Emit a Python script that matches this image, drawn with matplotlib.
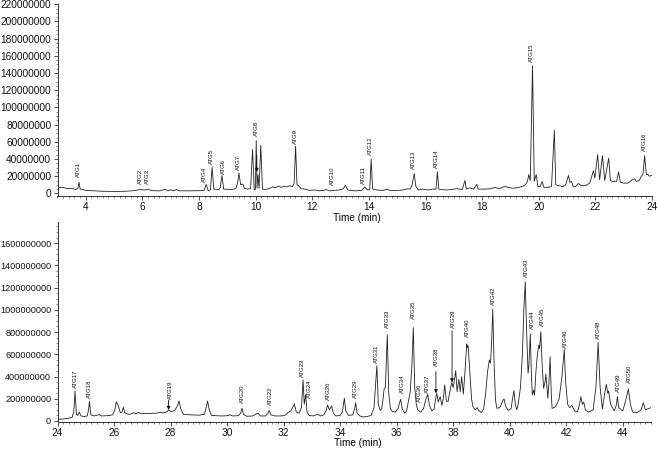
import matplotlib
matplotlib.use("Agg")
import matplotlib.pyplot as plt
from matplotlib.ticker import MultipleLocator, FuncFormatter

plt.rcParams['font.family'] = ['Liberation Sans', 'DejaVu Sans']

# chromatogram traces: (time in min, signal in millions)
top_trace = [
    (3.0, 6.5), (3.2, 7.0), (3.35, 5.5), (3.5, 6.0), (3.65, 4.5), (3.72, 6), (3.76, 13), (3.8, 5),
    (3.9, 4.5), (4.0, 3.5), (4.3, 3.0), (4.6, 2.5), (5.0, 2.3), (5.4, 2.5), (5.7, 3.2), (5.9, 4.5),
    (6.05, 4.0), (6.2, 4.6), (6.35, 3.2), (6.6, 3.0), (6.8, 4.8), (6.9, 3.0), (7.0, 4.2), (7.1, 3.0),
    (7.2, 4.5), (7.3, 3.0), (7.6, 3.0), (8.0, 3.2), (8.18, 3.5), (8.25, 10.5), (8.32, 3.5), (8.4, 4),
    (8.46, 30.5), (8.52, 5), (8.7, 4.5), (8.75, 7), (8.81, 21), (8.87, 5), (9.1, 4.5), (9.3, 5.5),
    (9.36, 12), (9.41, 23.5), (9.47, 10), (9.55, 11), (9.6, 6), (9.7, 5), (9.82, 5.5), (9.89, 51),
    (9.95, 4), (9.99, 5), (10.02, 61.5), (10.05, 6), (10.08, 22), (10.12, 6), (10.18, 56), (10.24, 5),
    (10.35, 4.5), (10.5, 6), (10.6, 7.5), (10.7, 6.5), (10.8, 8.5), (10.9, 7), (11.0, 8.5), (11.1, 7.5),
    (11.2, 9.0), (11.3, 8), (11.36, 12), (11.41, 55), (11.46, 10), (11.52, 9), (11.6, 5.5), (11.75, 5),
    (11.9, 3.5), (12.1, 4), (12.2, 3.0), (12.4, 3.5), (12.5, 4.5), (12.6, 3.0), (12.8, 3.5), (12.95, 4),
    (13.1, 5.5), (13.17, 9.5), (13.25, 4), (13.5, 3.0), (13.75, 3.5), (13.85, 7.5), (13.95, 4.0),
    (14.03, 4.5), (14.08, 40), (14.13, 5), (14.3, 4), (14.5, 3.5), (14.65, 5), (14.75, 3.2), (15.0, 3.5),
    (15.2, 4), (15.38, 5.5), (15.45, 5), (15.52, 9), (15.6, 23), (15.66, 8), (15.75, 4), (15.9, 5),
    (16.1, 4), (16.25, 5), (16.37, 5), (16.42, 25), (16.47, 5), (16.7, 4), (16.9, 4.5), (17.1, 5.5),
    (17.3, 4.5), (17.39, 15), (17.44, 5), (17.55, 6.5), (17.7, 5), (17.81, 10.5), (17.86, 5), (18.1, 5),
    (18.3, 5.5), (18.45, 7), (18.6, 5.5), (18.75, 7.5), (18.85, 8), (18.9, 7), (19.1, 6), (19.3, 7),
    (19.5, 9), (19.6, 14), (19.65, 22), (19.7, 15), (19.78, 148.5), (19.84, 14), (19.91, 22), (19.97, 8),
    (20.05, 8), (20.12, 14), (20.18, 7), (20.3, 7), (20.45, 8), (20.55, 73.5), (20.6, 10), (20.7, 9),
    (20.85, 8), (20.95, 10), (21.05, 21), (21.1, 13), (21.15, 14), (21.22, 8), (21.3, 8), (21.4, 11.5),
    (21.5, 9), (21.65, 9), (21.8, 12), (21.93, 26.5), (21.98, 18), (22.08, 45), (22.15, 16), (22.25, 44),
    (22.33, 15), (22.47, 41), (22.53, 15), (22.6, 14), (22.75, 14), (22.82, 25), (22.88, 13), (23.0, 12),
    (23.15, 12), (23.3, 16), (23.38, 17), (23.45, 14), (23.55, 15), (23.62, 20), (23.68, 22), (23.74, 44),
    (23.8, 22), (23.86, 22), (23.9, 20), (24.0, 21),
]

bottom_trace = [
    (24.0, 15), (24.2, 18), (24.4, 25), (24.52, 35), (24.58, 90), (24.62, 270), (24.67, 60), (24.72, 50),
    (24.77, 81), (24.83, 45), (24.95, 40), (25.05, 45), (25.1, 100), (25.13, 177), (25.18, 55), (25.3, 45),
    (25.48, 58), (25.55, 45), (25.8, 48), (25.95, 55), (26.03, 100), (26.08, 171), (26.15, 140), (26.22, 75),
    (26.28, 80), (26.33, 123), (26.38, 75), (26.5, 60), (26.6, 62), (26.7, 75), (26.78, 63), (26.88, 78),
    (26.95, 65), (27.2, 68), (27.5, 70), (27.65, 80), (27.72, 72), (27.85, 80), (27.94, 99), (28.02, 82),
    (28.15, 95), (28.25, 140), (28.3, 180), (28.36, 110), (28.45, 60), (28.7, 55), (29.0, 52), (29.2, 60),
    (29.26, 120), (29.31, 180), (29.37, 100), (29.45, 50), (29.8, 45), (30.0, 47), (30.1, 55), (30.2, 45),
    (30.4, 48), (30.48, 70), (30.53, 114), (30.58, 60), (30.7, 42), (30.9, 45), (31.05, 65), (31.1, 70),
    (31.18, 45), (31.35, 45), (31.44, 65), (31.49, 93), (31.55, 55), (31.7, 45), (31.9, 45), (32.05, 50),
    (32.15, 75), (32.25, 90), (32.33, 125), (32.38, 153), (32.45, 80), (32.55, 70), (32.63, 120),
    (32.69, 369), (32.73, 150), (32.78, 237), (32.83, 80), (32.9, 50), (33.05, 45), (33.15, 55), (33.22, 60),
    (33.3, 45), (33.42, 55), (33.5, 90), (33.56, 144), (33.62, 100), (33.7, 135), (33.76, 70), (33.85, 45),
    (34.0, 50), (34.08, 80), (34.15, 204), (34.2, 90), (34.3, 50), (34.45, 55), (34.51, 110), (34.55, 165),
    (34.6, 70), (34.7, 45), (34.8, 36), (34.95, 40), (35.1, 50), (35.2, 120), (35.26, 350), (35.3, 498),
    (35.35, 150), (35.42, 95), (35.47, 110), (35.52, 200), (35.56, 294), (35.6, 300), (35.67, 777),
    (35.72, 250), (35.78, 110), (35.85, 84), (35.95, 80), (36.05, 110), (36.1, 160), (36.14, 195),
    (36.2, 110), (36.28, 70), (36.35, 90), (36.42, 180), (36.48, 260), (36.54, 500), (36.59, 840),
    (36.64, 300), (36.69, 159), (36.74, 100), (36.85, 80), (36.95, 110), (37.03, 190), (37.1, 240),
    (37.16, 140), (37.25, 90), (37.33, 110), (37.38, 200), (37.42, 249), (37.47, 170), (37.54, 219),
    (37.6, 140), (37.65, 200), (37.7, 324), (37.76, 180), (37.82, 174), (37.88, 260), (37.95, 348),
    (38.0, 300), (38.05, 380), (38.09, 453), (38.14, 264), (38.2, 375), (38.25, 264), (38.3, 399),
    (38.36, 242), (38.42, 450), (38.48, 693), (38.5, 660), (38.53, 678), (38.6, 400), (38.65, 200),
    (38.7, 129), (38.78, 100), (38.85, 120), (38.9, 95), (39.0, 75), (39.08, 110), (39.15, 250),
    (39.22, 450), (39.28, 549), (39.32, 520), (39.36, 700), (39.4, 1005), (39.45, 500), (39.5, 180),
    (39.55, 114), (39.65, 120), (39.75, 180), (39.8, 198), (39.86, 130), (39.95, 95), (40.05, 110),
    (40.1, 200), (40.15, 273), (40.2, 150), (40.25, 100), (40.3, 150), (40.38, 300), (40.45, 600),
    (40.5, 1000), (40.55, 1251), (40.6, 800), (40.65, 429), (40.68, 500), (40.73, 783), (40.77, 400),
    (40.8, 234), (40.85, 279), (40.88, 230), (40.93, 450), (40.98, 600), (41.03, 684), (41.06, 650),
    (41.1, 804), (41.15, 500), (41.2, 294), (41.25, 350), (41.28, 423), (41.32, 300), (41.35, 204),
    (41.39, 350), (41.43, 579), (41.47, 250), (41.5, 114), (41.58, 120), (41.65, 140), (41.75, 200),
    (41.85, 400), (41.93, 645), (41.98, 350), (42.05, 150), (42.12, 120), (42.2, 140), (42.3, 90),
    (42.4, 80), (42.47, 150), (42.52, 219), (42.57, 150), (42.62, 170), (42.68, 100), (42.8, 80),
    (42.95, 100), (43.05, 300), (43.13, 705), (43.2, 300), (43.28, 110), (43.35, 230), (43.42, 330),
    (43.47, 250), (43.5, 270), (43.57, 150), (43.7, 90), (43.77, 140), (43.81, 219), (43.86, 120),
    (44.0, 90), (44.1, 180), (44.2, 288), (44.27, 150), (44.35, 80), (44.5, 75), (44.65, 100),
    (44.73, 165), (44.8, 100), (44.9, 110), (45.0, 120),
]

# peak labels: (name, time, signal at label foot in millions)
top_labels = [
    ("ATG1", 3.73, 19), ("ATG2", 5.93, 11), ("ATG3", 6.17, 11), ("ATG4", 8.19, 13),
    ("ATG5", 8.44, 34), ("ATG6", 8.85, 23), ("ATG7", 9.39, 27), ("ATG8", 10.02, 67),
    ("ATG9", 11.4, 58), ("ATG10", 12.7, 10), ("ATG11", 13.81, 11), ("ATG12", 14.07, 45),
    ("ATG13", 15.58, 28), ("ATG14", 16.4, 29), ("ATG15", 19.75, 153), ("ATG16", 23.72, 49),
]
bottom_labels = [
    ("ATG17", 24.62, 294), ("ATG18", 25.14, 204), ("ATG19", 28.0, 202), ("ATG20", 30.56, 159),
    ("ATG22", 31.55, 144), ("ATG23", 32.68, 399), ("ATG24", 32.91, 204), ("ATG26", 33.6, 189),
    ("ATG29", 34.56, 210), ("ATG31", 35.3, 525), ("ATG33", 35.67, 834), ("ATG34", 36.2, 249),
    ("ATG35", 36.59, 915), ("ATG36", 36.8, 174), ("ATG37", 37.09, 249), ("ATG38", 37.42, 498),
    ("ATG39", 38.0, 834), ("ATG40", 38.51, 753), ("ATG42", 39.41, 1044), ("ATG43", 40.58, 1299),
    ("ATG44", 40.8, 825), ("ATG45", 41.16, 855), ("ATG46", 41.99, 660), ("ATG48", 43.15, 738),
    ("ATG49", 43.85, 264), ("ATG50", 44.23, 339),
]

# arrows: (time, tail signal, tip signal) in millions
top_arrows = [(10.04, 45, 25)]
bottom_arrows = [(27.93, 189, 99), (37.39, 444, 249), (37.96, 813, 348)]

LINE = '#222222'


def draw_panel(ax, trace, labels, arrows, xlim, ylim, ymax_tick, ystep, ylabsize):
    t = [p[0] for p in trace]
    s = [p[1] * 1e6 for p in trace]
    ax.plot(t, s, color=LINE, lw=0.6)
    for name, x, y in labels:
        ax.text(x, y * 1e6, name, rotation=90, ha='center', va='bottom',
                fontsize=4.3, color='#111111')
    for x, y0, y1 in arrows:
        ax.annotate('', xy=(x, y1 * 1e6), xytext=(x, y0 * 1e6),
                    arrowprops=dict(arrowstyle='-|>', lw=0.6, color='#111111',
                                    mutation_scale=5, shrinkA=0, shrinkB=0))
    ax.set_xlim(*xlim)
    ax.set_ylim(*ylim)
    ax.set_yticks([i * ystep for i in range(int(ymax_tick / ystep) + 1)])
    ax.yaxis.set_minor_locator(MultipleLocator(ystep / 4))
    ax.xaxis.set_major_locator(MultipleLocator(2))
    ax.xaxis.set_minor_locator(MultipleLocator(0.2))
    ax.yaxis.set_major_formatter(FuncFormatter(lambda v, p: f'{int(round(v))}'))
    for side in ('top', 'right'):
        ax.spines[side].set_visible(False)
    for side in ('left', 'bottom'):
        ax.spines[side].set_linewidth(0.7)
        ax.spines[side].set_color('#333333')
    ax.tick_params(which='major', direction='out', length=3, width=0.6,
                   labelsize=7.3, pad=1.5, colors='#333333', labelcolor='#111111')
    ax.tick_params(axis='y', which='major', labelsize=ylabsize)
    ax.tick_params(which='minor', direction='out', length=1.5, width=0.5, colors='#555555')


fig = plt.figure(figsize=(6.58, 4.49), dpi=100)

ax1 = fig.add_axes([57.5 / 658, 1 - 196 / 449, (652 - 57.5) / 658, (196 - 4.3) / 449])
draw_panel(ax1, top_trace, top_labels, top_arrows, (3, 24), (-3e6, 2.2e8), 2.2e8, 2e7, 7.3)

ax2 = fig.add_axes([57.5 / 658, 1 - 422.3 / 449, (651 - 57.5) / 658, (422.3 - 222) / 449])
draw_panel(ax2, bottom_trace, bottom_labels, bottom_arrows, (24, 45), (-12e6, 1.79e9), 1.6e9, 2e8, 6.6)
ax2.tick_params(axis='x', which='major', pad=1)

fig.text(333 / 658, 1 - 218 / 449, 'Time (min)', ha='left', va='center', fontsize=7.2)
fig.text(334 / 658, 1 - 443 / 449, 'Time (min)', ha='left', va='center', fontsize=7.2)

fig.savefig('out.png', dpi=100)
